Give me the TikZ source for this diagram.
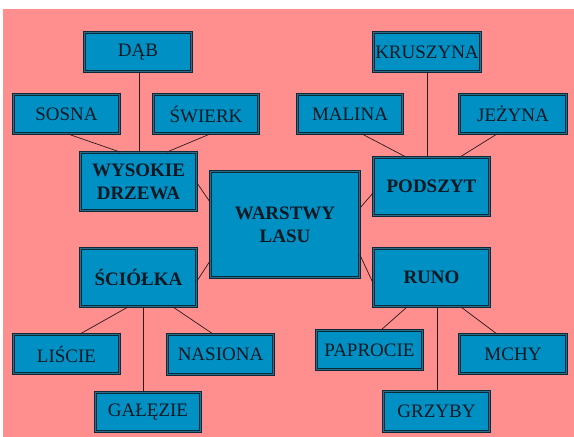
\documentclass[tikz,border=0pt]{standalone}
\usepackage{fontspec}
\setmainfont{Liberation Serif}
\usetikzlibrary{calc}
\definecolor{bgpink}{HTML}{FF8F8F}
\definecolor{boxfill}{HTML}{0090C4}
\definecolor{boxdark}{HTML}{0A2A3A}
\definecolor{boxgap}{HTML}{2A6E8A}
\definecolor{txt}{HTML}{0A1822}
\definecolor{linec}{HTML}{2A1A1A}
\tikzset{
  leaf/.style={rectangle, fill=boxfill, draw=boxdark, double=boxgap, double distance=0.9pt, line width=1.1pt,
    inner sep=0pt, text=txt, font=\fontsize{19}{22}\selectfont, align=center},
  mid/.style={leaf, font=\fontsize{19}{23}\selectfont\bfseries},
  conn/.style={draw=linec, line width=0.7pt}
}
\begin{document}
\begin{tikzpicture}[x=1pt,y=-1pt]
\useasboundingbox (0,0) rectangle (574,437);
\fill[white] (0,0) rectangle (574,437);
\fill[bgpink] (3,9) rectangle (574,437);
\node[leaf, minimum width=106.9pt, minimum height=38.9pt] (dab) at (138,52) {DĄB};
\node[leaf, minimum width=105.9pt, minimum height=38.9pt] (sosna) at (66.5,114) {SOSNA};
\node[leaf, minimum width=104.9pt, minimum height=38.9pt] (swierk) at (206,114) {ŚWIERK};
\node[mid, minimum width=115.9pt, minimum height=57.9pt] (wys) at (138.5,181.5) {WYSOKIE\\DRZEWA};
\node[mid, minimum width=148.9pt, minimum height=105.9pt] (war) at (285,224.5) {WARSTWY\\LASU};
\node[leaf, minimum width=106.9pt, minimum height=38.9pt] (kru) at (427,52) {KRUSZYNA};
\node[leaf, minimum width=104.9pt, minimum height=38.9pt] (mal) at (350,114) {MALINA};
\node[leaf, minimum width=106.9pt, minimum height=38.9pt] (jez) at (513,114) {JEŻYNA};
\node[mid, minimum width=115.9pt, minimum height=57.9pt] (pod) at (431.5,186.5) {PODSZYT};
\node[mid, minimum width=115.9pt, minimum height=57.9pt] (sci) at (138.5,277.5) {ŚCIÓŁKA};
\node[leaf, minimum width=105.9pt, minimum height=38.9pt] (lis) at (66.5,354) {LIŚCIE};
\node[leaf, minimum width=105.9pt, minimum height=39.9pt] (nas) at (220.5,354.5) {NASIONA};
\node[leaf, minimum width=104.9pt, minimum height=38.9pt] (gal) at (148,412) {GAŁĘZIE};
\node[mid, minimum width=115.9pt, minimum height=57.9pt] (run) at (431.5,277.5) {RUNO};
\node[leaf, minimum width=105.9pt, minimum height=38.9pt] (pap) at (369.5,350) {PAPROCIE};
\node[leaf, minimum width=106.9pt, minimum height=38.9pt] (mch) at (513,354) {MCHY};
\node[leaf, minimum width=105.9pt, minimum height=39.9pt] (grz) at (436.5,411.5) {GRZYBY};
% connectors
\draw[conn] ($(dab.south)+(1,0)$) -- ($(wys.north)+(0.5,0)$);
\draw[conn] ($(sosna.south)+(1.5,0)$) -- ($(wys.north)+(-18.5,0)$);
\draw[conn] ($(swierk.south)+(4,0)$) -- ($(wys.north)+(28.5,0)$);
\draw[conn] ($(wys.east)+(0,1.5)$) -- ($(war.west)+(0,-22.5)$);
\draw[conn] ($(kru.south)$) -- ($(pod.north)+(-4.5,0)$);
\draw[conn] ($(mal.south)+(12,0)$) -- ($(pod.north)+(-25.5,0)$);
\draw[conn] ($(jez.south)+(-16,0)$) -- ($(pod.north)+(28.5,0)$);
\draw[conn] ($(war.east)+(0,-16.5)$) -- ($(pod.west)+(0,6.5)$);
\draw[conn] ($(sci.east)+(0,3.5)$) -- ($(war.west)+(0,36.5)$);
\draw[conn] ($(sci.south)+(-10.5,0)$) -- ($(lis.north)+(13.5,0)$);
\draw[conn] ($(sci.south)+(34.5,0)$) -- ($(nas.north)+(-7.5,0)$);
\draw[conn] ($(sci.south)+(4.5,0)$) -- ($(gal.north)+(-5,0)$);
\draw[conn] ($(war.east)+(0,30.5)$) -- ($(run.west)+(0,5.5)$);
\draw[conn] ($(run.south)+(-24.5,0)$) -- ($(pap.north)+(11.5,0)$);
\draw[conn] ($(run.south)+(29.5,0)$) -- ($(mch.north)+(-16,0)$);
\draw[conn] ($(run.south)+(5.5,0)$) -- ($(grz.north)+(0.5,0)$);
\end{tikzpicture}
\end{document}
